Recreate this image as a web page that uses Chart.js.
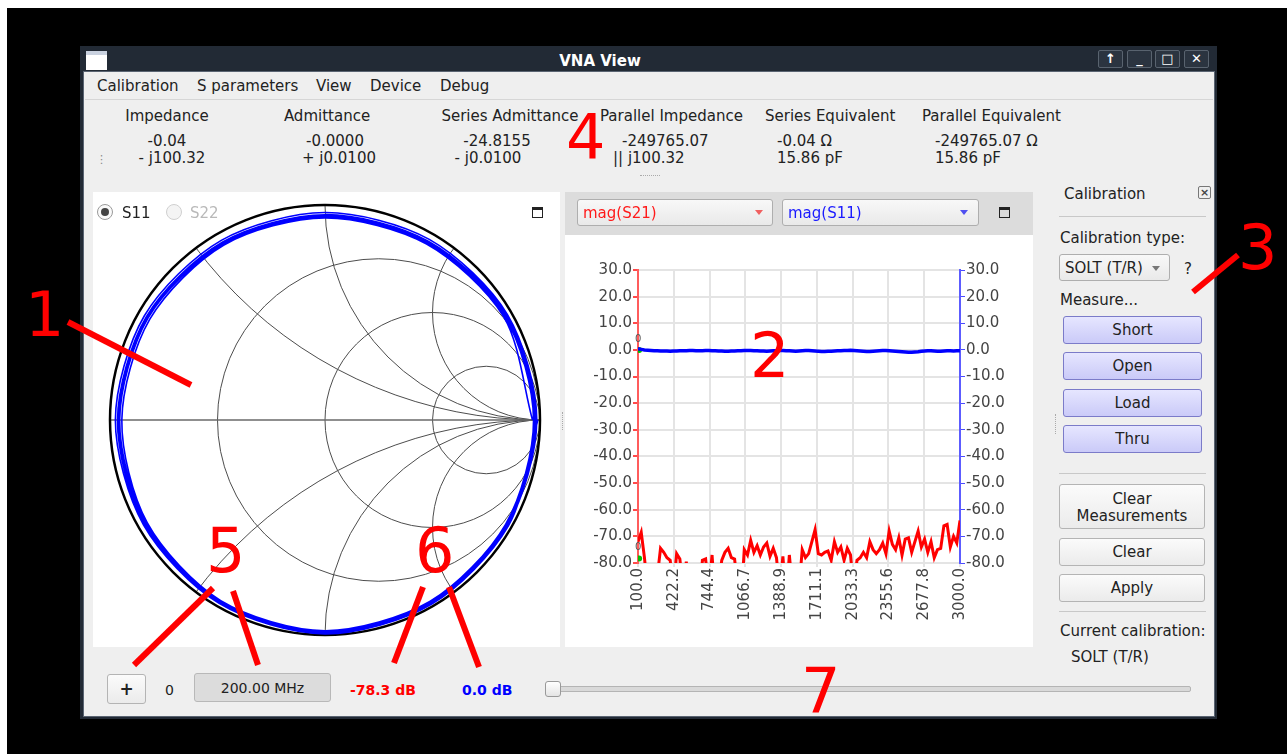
<!DOCTYPE html>
<html>
<head>
<meta charset="utf-8">
<script src="https://cdn.jsdelivr.net/npm/chart.js@4.4.0/dist/chart.umd.min.js"></script>
<style>
  body { margin: 0; width: 1287px; height: 754px; overflow: hidden; background: #fff;
         font-family: "DejaVu Sans", sans-serif; font-size: 15px; color: #222; position: relative; }
  .a { position: absolute; white-space: nowrap; line-height: 18px; margin-top: 1px; }
  .c { text-align: center; }
  .btn { position: absolute; box-sizing: border-box; border: 1px solid #b4b4b4; border-radius: 3px;
         background: linear-gradient(#fbfbfb, #ebebeb); text-align: center; }
  .pbtn { position: absolute; box-sizing: border-box; border: 1px solid #7b7bc9; border-radius: 3px;
          background: linear-gradient(#e6e6ff, #cacaf8); text-align: center; line-height: 27px; }
  .combo { position: absolute; box-sizing: border-box; border: 1px solid #aeaeae; border-radius: 3px;
           background: linear-gradient(#f8f8f8, #e9e9e9); line-height: 26px; padding-left: 5px; font-size: 15px; }
  .tri { position: absolute; width: 0; height: 0; border-left: 4px solid transparent; border-right: 4px solid transparent; }
  .maxi { position: absolute; width: 9px; height: 7px; border: 1.5px solid #222; border-top-width: 3px; }
  .sep { position: absolute; height: 1px; background: #c8c8c8; }
  .ann { position: absolute; font-family: "DejaVu Sans", sans-serif; font-size: 62px; line-height: 62px; color: #ff0000; }
  .tb { position: absolute; top: 50px; width: 25px; height: 18px; box-sizing: border-box; border: 1px solid #59636f;
        border-radius: 2px; background: #2b3440; color: #fff; font-weight: bold; font-size: 13px; text-align: center; line-height: 16px; }
  canvas { position: absolute; }
</style>
</head>
<body>
<div style="position:absolute;left:7px;top:8px;width:1280px;height:746px;background:#000"></div>
<!-- window frame -->
<div style="position:absolute;left:80px;top:46px;width:1137px;height:673px;background:#222a35"></div>
<div style="position:absolute;left:84px;top:72px;width:1130px;height:644px;background:#efefef;box-shadow:0 0 0 1px #5a6472"></div>
<div style="position:absolute;left:86px;top:51px;width:21px;height:15px;background:#fff;border-top:4px solid #c9d1df"></div>
<div class="a c" style="left:500px;top:51px;width:200px;color:#fff;font-weight:bold">VNA View</div>
<div class="tb" style="left:1098px">&#8593;</div>
<div class="tb" style="left:1127px">_</div>
<div class="tb" style="left:1155px">&#9633;</div>
<div class="tb" style="left:1184px">&#10005;</div>

<!-- menu -->
<div class="a" style="left:97px;top:76px">Calibration</div>
<div class="a" style="left:197px;top:76px">S parameters</div>
<div class="a" style="left:316px;top:76px">View</div>
<div class="a" style="left:370px;top:76px">Device</div>
<div class="a" style="left:440px;top:76px">Debug</div>
<div class="sep" style="left:85px;top:99px;width:1128px;background:#d6d6d6"></div>

<!-- info -->
<div class="a c" style="left:67px;top:106px;width:200px">Impedance</div>
<div class="a c" style="left:227px;top:106px;width:200px">Admittance</div>
<div class="a c" style="left:410px;top:106px;width:200px">Series Admittance</div>
<div class="a" style="left:600px;top:106px">Parallel Impedance</div>
<div class="a" style="left:765px;top:106px">Series Equivalent</div>
<div class="a" style="left:922px;top:106px">Parallel Equivalent</div>
<div class="a c" style="left:67px;top:131px;width:200px">-0.04</div>
<div class="a c" style="left:72px;top:148px;width:200px">- j100.32</div>
<div class="a c" style="left:235px;top:131px;width:200px">-0.0000</div>
<div class="a c" style="left:239px;top:148px;width:200px">+ j0.0100</div>
<div class="a c" style="left:397px;top:131px;width:200px">-24.8155</div>
<div class="a c" style="left:388px;top:148px;width:200px">- j0.0100</div>
<div class="a" style="left:622px;top:131px">-249765.07</div>
<div class="a" style="left:613px;top:148px">|| j100.32</div>
<div class="a" style="left:777px;top:131px">-0.04 &#937;</div>
<div class="a" style="left:777px;top:148px">15.86 pF</div>
<div class="a" style="left:935px;top:131px">-249765.07 &#937;</div>
<div class="a" style="left:935px;top:148px">15.86 pF</div>
<div class="a" style="left:96px;top:150px;color:#888;font-size:11px">&#8942;</div>
<div style="position:absolute;left:640px;top:175px;width:20px;border-top:1px dotted #aaa"></div>

<!-- smith panel -->
<div style="position:absolute;left:93px;top:192px;width:467px;height:455px;background:#fff"></div>
<canvas id="smith" width="467" height="455" style="left:93px;top:192px;width:467px;height:455px"></canvas>
<div style="position:absolute;left:97px;top:204px;width:14px;height:14px;border:1px solid #9a9a9a;border-radius:50%;background:#fafafa"></div>
<div style="position:absolute;left:101px;top:208px;width:8px;height:8px;border-radius:50%;background:#444"></div>
<div class="a" style="left:122px;top:203px">S11</div>
<div style="position:absolute;left:166px;top:204px;width:14px;height:14px;border:1px solid #cfcfcf;border-radius:50%;background:#f4f4f4"></div>
<div class="a" style="left:190px;top:203px;color:#b9b9b9">S22</div>
<div class="maxi" style="left:532px;top:207px"></div>
<div style="position:absolute;left:562px;top:412px;height:18px;border-left:1px dotted #aaa"></div>

<!-- graph panel -->
<div style="position:absolute;left:565px;top:192px;width:468px;height:43px;background:#dcdcdc"></div>
<div style="position:absolute;left:565px;top:235px;width:468px;height:412px;background:#fff"></div>
<div class="combo" style="left:577px;top:199px;width:196px;height:27px;color:#ff1a1a">mag(S21)</div>
<div class="tri" style="left:755px;top:210px;border-top:5px solid #f06060"></div>
<div class="combo" style="left:782px;top:199px;width:197px;height:27px;color:#1a1aff">mag(S11)</div>
<div class="tri" style="left:960px;top:210px;border-top:5px solid #5050f0"></div>
<div class="maxi" style="left:999px;top:207px"></div>
<canvas id="graph" width="468" height="412" style="left:565px;top:235px;width:468px;height:412px"></canvas>

<!-- calibration dock -->
<div class="a" style="left:1064px;top:184px">Calibration</div>
<div style="position:absolute;left:1198px;top:186px;width:11px;height:11px;border:1px solid #777;border-radius:2px;font-size:11px;line-height:11px;text-align:center;color:#444;font-weight:bold">&#215;</div>
<div class="sep" style="left:1059px;top:216px;width:147px"></div>
<div class="a" style="left:1060px;top:228px">Calibration type:</div>
<div class="combo" style="left:1059px;top:254px;width:111px;height:27px">SOLT (T/R)</div>
<div class="tri" style="left:1152px;top:266px;border-top:5px solid #777"></div>
<div class="a" style="left:1184px;top:259px">?</div>
<div class="a" style="left:1060px;top:290px">Measure...</div>
<div class="pbtn" style="left:1063px;top:316px;width:139px;height:28px">Short</div>
<div class="pbtn" style="left:1063px;top:352px;width:139px;height:28px">Open</div>
<div class="pbtn" style="left:1063px;top:389px;width:139px;height:28px">Load</div>
<div class="pbtn" style="left:1063px;top:425px;width:139px;height:28px">Thru</div>
<div style="position:absolute;left:1055px;top:414px;height:20px;border-left:1px dotted #aaa"></div>
<div class="sep" style="left:1059px;top:473px;width:147px"></div>
<div class="btn" style="left:1059px;top:484px;width:146px;height:45px;line-height:17px;padding-top:6px">Clear<br>Measurements</div>
<div class="btn" style="left:1059px;top:538px;width:146px;height:28px;line-height:27px">Clear</div>
<div class="btn" style="left:1059px;top:574px;width:146px;height:28px;line-height:27px">Apply</div>
<div class="sep" style="left:1059px;top:611px;width:147px"></div>
<div class="a" style="left:1060px;top:621px">Current calibration:</div>
<div class="a" style="left:1071px;top:647px">SOLT (T/R)</div>

<!-- bottom bar -->
<div class="btn" style="left:107px;top:674px;width:39px;height:30px;line-height:28px;font-weight:bold;font-size:17px">+</div>
<div class="a" style="left:165px;top:680px;font-size:14px">0</div>
<div style="position:absolute;left:194px;top:673px;width:137px;height:29px;box-sizing:border-box;border:1px solid #b8b8b8;border-radius:3px;background:#dcdcdc;text-align:center;line-height:28px;font-size:14px">200.00 MHz</div>
<div class="a" style="left:350px;top:680px;color:#ff0000;font-weight:bold;font-size:14px">-78.3 dB</div>
<div class="a" style="left:462px;top:680px;color:#0000ff;font-weight:bold;font-size:14px">0.0 dB</div>
<div style="position:absolute;left:553px;top:686px;width:636px;height:4px;border:1px solid #b4b4b4;border-radius:2px;background:#d9d9d9"></div>
<div style="position:absolute;left:545px;top:681px;width:14px;height:14px;border:1px solid #999;border-radius:3px;background:linear-gradient(#fff,#e4e4e4)"></div>

<!-- annotations -->
<div class="ann" style="left:25px;top:284px">1</div>
<div class="ann" style="left:750px;top:325px">2</div>
<div class="ann" style="left:1238px;top:217px">3</div>
<div class="ann" style="left:566px;top:107px">4</div>
<div class="ann" style="left:206px;top:520px">5</div>
<div class="ann" style="left:415px;top:520px">6</div>
<div class="ann" style="left:801px;top:660px">7</div>
<svg width="1287" height="754" style="position:absolute;left:0;top:0" stroke="#ff0000" stroke-width="6">
  <line x1="68" y1="322" x2="191" y2="385"/>
  <line x1="1193" y1="292" x2="1238" y2="255"/>
  <line x1="213" y1="588" x2="134" y2="665"/>
  <line x1="233" y1="591" x2="258" y2="665"/>
  <line x1="423" y1="587" x2="394" y2="663"/>
  <line x1="449" y1="587" x2="479" y2="667"/>
</svg>

<script>
// sweep frequencies (MHz)
const freqMHz = [100,129,158,187,216,245,274,303,332,361,390,419,448,477,506,535,564,593,622,651,
  680,709,738,767,796,825,854,883,912,941,970,999,1028,1057,1086,1115,1144,1173,1202,1231,
  1260,1289,1318,1347,1376,1405,1434,1463,1492,1521,1550,1579,1608,1637,1666,1695,1724,1753,1782,1811,
  1840,1869,1898,1927,1956,1985,2014,2043,2072,2101,2130,2159,2188,2217,2246,2275,2304,2333,2362,2391,
  2420,2449,2478,2507,2536,2565,2594,2623,2652,2681,2710,2739,2768,2797,2826,2855,2884,2913,2942,2971,3000];

// mag(S21) dB (below -80 is off the plot)
const s21dB = [-72,-68.5,-78,-90,-95,-90,-85,-74.5,-76,-78,
  -79,-90,-76.5,-78.5,-90,-79.5,-95,-90,-92,-95,
  -79,-78.5,-90,-77,-95,-90,-79,-76,-74.5,-78,
  -78.5,-90,-95,-75,-77,-71.5,-76,-73.5,-77,-74,
  -72.5,-77.5,-74.5,-78,-90,-77.5,-95,-77,-90,-95,
  -90,-75,-78,-76.5,-72,-67.5,-76.5,-77,-76,-75.5,
  -79,-72,-76,-74,-79,-74.5,-77,-90,-79,-78,
  -76,-78,-72,-75,-76.5,-75,-72.5,-76.5,-68,-73,
  -75,-70.5,-77,-71,-70.5,-76,-72,-68,-74,-71,
  -76,-72,-78,-75,-74.5,-66,-65.5,-74,-70,-72.5,-64];

// mag(S11) dB
const s11dB = [0.4,0.2,0.0,-0.1,-0.2,-0.3,-0.3,-0.4,-0.4,-0.4,
  -0.5,-0.4,-0.4,-0.3,-0.3,-0.3,-0.2,-0.2,-0.3,-0.3,
  -0.3,-0.2,-0.2,-0.3,-0.3,-0.4,-0.4,-0.5,-0.5,-0.4,
  -0.4,-0.3,-0.3,-0.2,-0.2,-0.2,-0.3,-0.3,-0.4,-0.4,
  -0.5,-0.4,-0.3,-0.3,-0.2,-0.2,-0.3,-0.3,-0.4,-0.5,
  -0.4,-0.3,-0.2,-0.2,-0.3,-0.4,-0.5,-0.6,-0.6,-0.5,
  -0.5,-0.4,-0.3,-0.3,-0.2,-0.2,-0.1,-0.2,-0.3,-0.4,
  -0.5,-0.6,-0.6,-0.5,-0.4,-0.3,-0.2,-0.2,-0.3,-0.4,
  -0.5,-0.6,-0.7,-0.8,-0.9,-0.9,-0.8,-0.7,-0.5,-0.4,
  -0.3,-0.3,-0.4,-0.5,-0.5,-0.4,-0.3,-0.3,-0.4,-0.3,-0.3];

const xTickLabels = [100.0, 422.2, 744.4, 1066.7, 1388.9, 1711.1, 2033.3, 2355.6, 2677.8, 3000.0];
const markerFreq = [110];
const markerS21 = [-78.3];
const markerS11 = [0.0];

// S11 on the Smith chart: reflection magnitude and phase (deg)
const smithPhase = [0,-30,-60,-90,-120,-150,-180,-210,-240,-270,-300,-330,
  -360,-390,-420,-450,-480,-510,-540,-570,-600,-630,-660,-690,
  -720,-750,-780,-810,-840,-870,-900,-930,-960,-990,-1020,-1050,
  -1080,-1110,-1140,-1170,-1200,-1230,-1260,-1290,-1320,-1350,-1380,-1410,
  -1440,-1470,-1500,-1530,-1560,-1590,-1620,-1650,-1680,-1710,-1740,-1770,-1800];
const smithMag = [0.99,0.985,0.99,0.995,0.985,0.975,0.975,0.97,0.965,0.965,0.97,0.98,
  0.985,0.98,0.985,0.99,0.98,0.97,0.965,0.96,0.955,0.955,0.96,0.975,
  0.98,0.975,0.98,0.985,0.975,0.965,0.96,0.955,0.95,0.95,0.955,0.97,
  0.975,0.975,0.975,0.98,0.97,0.96,0.955,0.95,0.945,0.945,0.95,0.965,
  0.97,0.97,0.975,0.98,0.97,0.955,0.945,0.94,0.94,0.94,0.945,0.96,0.965];
const resistanceCircles = [1/3, 1, 3];
const reactanceArcs = [0.5, 1, 2];

const font = { family: "DejaVu Sans", size: 15 };

// small "0" marker labels on the graph
const markerLabel = {
  id: 'markerLabel',
  afterDatasetsDraw(chart) {
    const { ctx, scales } = chart;
    ctx.save();
    ctx.fillStyle = '#555';
    ctx.font = '10px "DejaVu Sans"';
    ctx.textAlign = 'center';
    markerFreq.forEach((f, i) => {
      const x = scales.x.getPixelForValue(f) - 1;
      ctx.fillText('0', x, scales.y.getPixelForValue(markerS21[i]) - 8);
      ctx.fillText('0', x, scales.y2.getPixelForValue(markerS11[i]) - 8);
    });
    ctx.restore();
  }
};

new Chart(document.getElementById('graph'), {
  type: 'line',
  data: {
    datasets: [
      { label: 'mag(S21)', data: freqMHz.map((f, i) => ({ x: f, y: s21dB[i] })), yAxisID: 'y',
        borderColor: '#ff0000', borderWidth: 3, pointRadius: 0, tension: 0 },
      { label: 'mag(S11)', data: freqMHz.map((f, i) => ({ x: f, y: s11dB[i] })), yAxisID: 'y2',
        borderColor: '#0000ff', borderWidth: 3.5, pointRadius: 0, tension: 0 },
      { label: 'm0', data: markerFreq.map((f, i) => ({ x: f, y: markerS21[i] })), yAxisID: 'y',
        showLine: false, pointRadius: 3, pointBackgroundColor: '#00c000', pointBorderWidth: 0 },
      { label: 'm0b', data: markerFreq.map((f, i) => ({ x: f, y: markerS11[i] })), yAxisID: 'y2',
        showLine: false, pointRadius: 3, pointBackgroundColor: '#00c000', pointBorderWidth: 0 }
    ]
  },
  options: {
    responsive: false, maintainAspectRatio: false, animation: false, devicePixelRatio: 1,
    layout: { padding: { top: 35, left: 0, right: 0, bottom: 0 } },
    plugins: { legend: { display: false }, tooltip: { enabled: false } },
    scales: {
      x: {
        type: 'linear', min: 100, max: 3000,
        afterBuildTicks: s => { s.ticks = xTickLabels.map(v => ({ value: v })); },
        afterFit: s => { s.height = 84; },
        ticks: { minRotation: 90, maxRotation: 90, autoSkip: false, padding: 1, color: '#444', font,
                 callback: v => Number(v).toFixed(1) },
        grid: { color: '#e4e4e4', lineWidth: 2, tickLength: 4 },
        border: { display: false }
      },
      y: {
        position: 'left', min: -80, max: 30,
        afterFit: s => { s.width = 73; },
        ticks: { stepSize: 10, padding: 1, color: '#444', font, callback: v => Number(v).toFixed(1) },
        grid: { color: '#e4e4e4', lineWidth: 2, tickColor: '#ff4a4a', tickLength: 5 },
        border: { color: '#ff5c5c', width: 2 }
      },
      y2: {
        position: 'right', min: -80, max: 30,
        afterFit: s => { s.width = 73; },
        ticks: { stepSize: 10, padding: 1, color: '#444', font, callback: v => Number(v).toFixed(1) },
        grid: { drawOnChartArea: false, tickColor: '#4a4aff', tickLength: 5 },
        border: { color: '#5c5cff', width: 2 }
      }
    }
  },
  plugins: [markerLabel]
});

// Smith chart grid drawn through the chart scales
const smithGrid = {
  id: 'smithGrid',
  beforeDatasetsDraw(chart) {
    const { ctx, scales: { x, y } } = chart;
    const cx = x.getPixelForValue(0), cy = y.getPixelForValue(0);
    const R = x.getPixelForValue(1) - cx;
    ctx.save();
    ctx.beginPath();
    ctx.arc(cx, cy, R, 0, 2 * Math.PI);
    ctx.clip();
    ctx.strokeStyle = '#4d4d4d';
    ctx.lineWidth = 1;
    resistanceCircles.forEach(r => {
      ctx.beginPath();
      ctx.arc(x.getPixelForValue(r / (1 + r)), cy, R / (1 + r), 0, 2 * Math.PI);
      ctx.stroke();
    });
    reactanceArcs.forEach(v => {
      [v, -v].forEach(s => {
        ctx.beginPath();
        ctx.arc(x.getPixelForValue(1), y.getPixelForValue(1 / s), R / v, 0, 2 * Math.PI);
        ctx.stroke();
      });
    });
    ctx.strokeStyle = '#6a6a6a';
    ctx.lineWidth = 1.5;
    ctx.beginPath();
    ctx.moveTo(cx - R, cy);
    ctx.lineTo(cx + R, cy);
    ctx.stroke();
    ctx.restore();
    ctx.save();
    ctx.strokeStyle = '#000';
    ctx.lineWidth = 2.5;
    ctx.beginPath();
    ctx.arc(cx, cy, R, 0, 2 * Math.PI);
    ctx.stroke();
    ctx.restore();
  }
};

new Chart(document.getElementById('smith'), {
  type: 'scatter',
  data: {
    datasets: [{
      label: 'S11',
      data: smithPhase.map((p, i) => ({
        x: smithMag[i] * Math.cos(p * Math.PI / 180),
        y: smithMag[i] * Math.sin(p * Math.PI / 180)
      })),
      showLine: true, borderColor: '#0000ff', borderWidth: 1.6, pointRadius: 0, tension: 0.3
    }]
  },
  options: {
    responsive: false, maintainAspectRatio: false, animation: false, devicePixelRatio: 1,
    layout: { padding: { left: 17, right: 20, top: 13, bottom: 12 } },
    plugins: { legend: { display: false }, tooltip: { enabled: false } },
    scales: {
      x: { type: 'linear', min: -1, max: 1, display: false },
      y: { type: 'linear', min: -1, max: 1, display: false }
    }
  },
  plugins: [smithGrid]
});
</script>
</body>
</html>
